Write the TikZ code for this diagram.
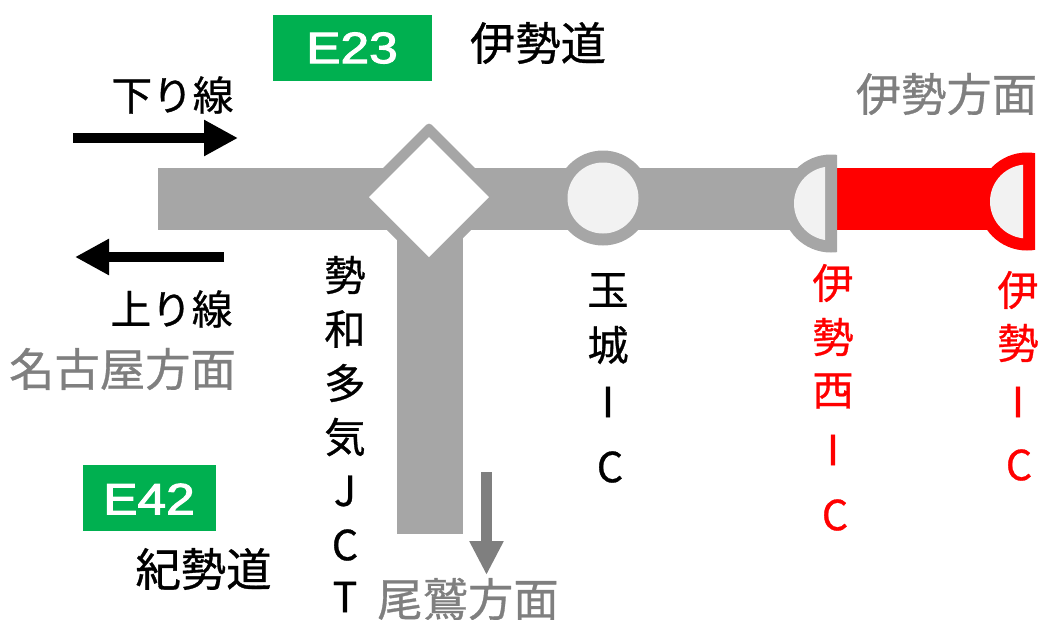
\documentclass[tikz,border=0pt]{standalone}
\usepackage{fontspec}
\usetikzlibrary{arrows.meta}
\setmainfont[FakeBold=0.7]{Noto Sans CJK JP}
\newfontfamily\signfont[FakeBold=2.2]{Liberation Sans}
\definecolor{road}{HTML}{A6A6A6}
\definecolor{pale}{HTML}{F2F2F2}
\definecolor{dirgray}{HTML}{7F7F7F}
\definecolor{signgreen}{HTML}{00B050}
\newcommand{\jtext}[1]{\fontsize{#1}{#1}\selectfont}
\tikzset{
  x=0.75pt,y=-0.75pt,
  lbl/.style={inner sep=0pt,anchor=center},
  big/.style={lbl,font=\jtext{34pt}},
  small/.style={lbl,font=\jtext{30.5pt}},
  vert/.style={lbl,font=\jtext{31pt}},
  graytext/.style={big,text=dirgray},
  routesign/.style={fill=signgreen,draw=none,inner sep=0pt,minimum width=#1*0.75pt,minimum height=50pt},
  signtext/.style={lbl,text=white,font=\signfont\fontsize{33pt}{33pt}\selectfont,xscale=1.17},
  blackarrow/.style={line width=7.5pt,black,-{Triangle[length=25.5pt,width=25.5pt]}},
  grayarrow/.style={line width=8pt,dirgray,-{Triangle[length=25.5pt,width=24pt]}},
}
\begin{document}
\begin{tikzpicture}
\useasboundingbox (0,0) rectangle (1040,619);
% roads
\fill[road] (158,168) rectangle (810,230);
\fill[road] (397,200) rectangle (463,534);
\fill[red] (837,168) rectangle (1000,230);
% JCT diamond
\fill[road,rounded corners=3pt] (429,122) -- (504,197) -- (429,272) -- (354,197) -- cycle;
\node[lbl] (jct) at (429,197) {};
\fill[white] (429,137) -- (489,197) -- (429,257) -- (369,197) -- cycle;
% Tamaki IC
\fill[road] (603,198) circle[radius=47.5];
\fill[pale] (603,198) circle[radius=35.5];
% Ise-nishi IC half circle
\begin{scope}
  \clip (770,140) rectangle (837,265);
  \fill[road] (831,203.5) circle[radius=49];
\end{scope}
\begin{scope}
  \clip (770,140) rectangle (825,265);
  \fill[pale] (831,203.5) circle[radius=37];
\end{scope}
% Ise IC half circle
\begin{scope}
  \clip (960,140) rectangle (1035,265);
  \fill[red] (1027,201.5) circle[radius=49];
\end{scope}
\begin{scope}
  \clip (960,140) rectangle (1023,265);
  \fill[pale] (1027,201.5) circle[radius=37];
\end{scope}
% signs
\node[routesign=159] (e23) at (352.5,48) {};
\node[signtext] (e23t) at (352,48) {E23};
\node[routesign=133] (e42) at (149.5,498) {};
\node[signtext] (e42t) at (149,499) {E42};
% arrows
\coordinate (a1s) at (73,138);
\coordinate (a1e) at (238,138);
\coordinate (a2s) at (224,257);
\coordinate (a2e) at (75,257);
\coordinate (a3s) at (486.5,472);
\coordinate (a3e) at (486.5,575);
\draw[blackarrow] (a1s) -- (a1e);
\draw[blackarrow] (a2s) -- (a2e);
\draw[grayarrow] (a3s) -- (a3e);
% labels
\node[big] (t1) at (538,43) {伊勢道};
\node[small] (t2) at (172.5,95) {下り線};
\node[small] (t3) at (171.5,309) {上り線};
\node[graytext] (t4) at (946.5,94) {伊勢方面};
\node[graytext] (t5) at (122.5,369) {名古屋方面};
\node[graytext] (t6) at (468,599) {尾鷲方面};
\node[big] (t7) at (203.5,569) {紀勢道};
% vertical JCT
\node[vert] (v1) at (345,275) {勢};
\node[vert] (v2) at (345,329) {和};
\node[vert] (v3) at (345,383) {多};
\node[vert] (v4) at (345,437) {気};
\node[vert] (v5) at (345,491) {J};
\node[vert] (v6) at (345,545) {C};
\node[vert] (v7) at (345,597) {T};
% Tamaki
\node[vert] (w1) at (608,290) {玉};
\node[vert] (w2) at (608,345) {城};
\node[vert] (w3) at (608,402) {I};
\node[vert] (w4) at (610,467) {C};
% Ise-nishi
\node[vert,text=red] (x1) at (833,283) {伊};
\node[vert,text=red] (x2) at (833,337) {勢};
\node[vert,text=red] (x3) at (833,391) {西};
\node[vert,text=red] (x4) at (833,450) {I};
\node[vert,text=red] (x5) at (835,515) {C};
% Ise
\node[vert,text=red] (y1) at (1018,290) {伊};
\node[vert,text=red] (y2) at (1018,343) {勢};
\node[vert,text=red] (y3) at (1018,402) {I};
\node[vert,text=red] (y4) at (1019,465) {C};
\end{tikzpicture}
\end{document}
